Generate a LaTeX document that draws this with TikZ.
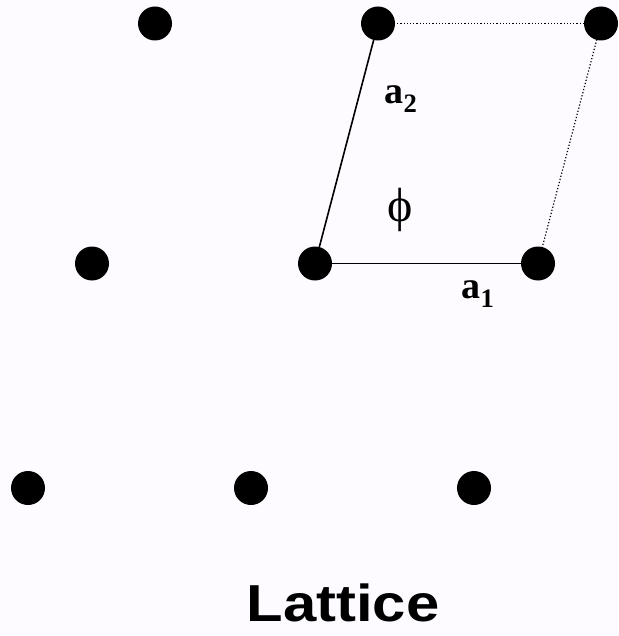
\documentclass[tikz,border=0pt]{standalone}
\usepackage{fontspec}
\setmainfont{Liberation Serif}
\newfontfamily\headfont{Liberation Sans}
\definecolor{bgc}{HTML}{FDFBFF}
\begin{document}
\begin{tikzpicture}[x=1pt,y=-1pt,
  site/.style={circle,fill=black,inner sep=0pt,minimum size=34pt},
  bond/.style={line width=1.6pt},
  ghost/.style={line width=1.2pt,dash pattern=on 1.2pt off 2pt},
  lbl/.style={inner sep=0pt,font=\bfseries\fontsize{38}{40}\selectfont}]
\fill[bgc] (0,0) rectangle (618,636);
\useasboundingbox (0,0) rectangle (618,636);
\node[site] (p1) at (155,23.5) {};
\node[site] (p2) at (378,23.5) {};
\node[site] (p3) at (601,23.5) {};
\node[site] (p4) at (92,263.5) {};
\node[site] (p5) at (315,263.5) {};
\node[site] (p6) at (538,263.5) {};
\node[site] (p7) at (28,488) {};
\node[site] (p8) at (251,488) {};
\node[site] (p9) at (474,488) {};
\draw[bond] (p5.center) -- (p2.center);
\draw[bond] (p5.center) -- (p6.center);
\draw[ghost] (p2.center) -- (p3.center);
\draw[ghost] (p6.center) -- (p3.center);
\node[lbl] (a2) at (401,99) {a$_{\mathbf{2}}$};
\node[lbl] (a1) at (478,294) {a$_{\mathbf{1}}$};
\node[inner sep=0pt,font=\fontsize{48}{50}\selectfont] (phi) at (400,210) {\symbol{"03D5}};
\node[inner sep=0pt,font=\headfont\bfseries\fontsize{52}{56}\selectfont,xscale=1.15] (title) at (343,603) {Lattice};
\end{tikzpicture}
\end{document}
